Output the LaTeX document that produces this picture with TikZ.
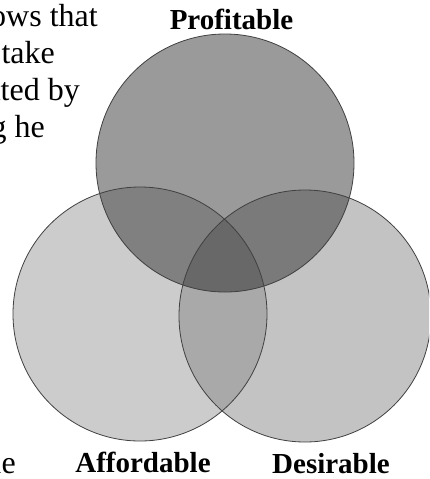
\documentclass[tikz,border=0pt]{standalone}
\usepackage{fontspec}
\setmainfont{Liberation Serif}
\begin{document}
\begin{tikzpicture}[x=1pt,y=-1pt,
  outline/.style={draw=black!75,line width=0.8pt},
  setlabel/.style={font=\fontsize{29}{33}\selectfont\bfseries,anchor=base,inner sep=0pt},
  bodytext/.style={font=\fontsize{32}{37}\selectfont,anchor=base east,inner sep=0pt}]
\useasboundingbox (0,0) rectangle (429,479);
\clip (0,0) rectangle (429,479);

% set centres and radii
\coordinate (P) at (225,163);
\coordinate (A) at (140,314);
\coordinate (D) at (305,316);
\def\rP{129}
\def\rA{127}
\def\rD{126}

% running text behind the diagram
\node[bodytext] (t1) at (98,26) {shows that};
\node[bodytext] (t2) at (55,63) {take};
\node[bodytext] (t3) at (80,100) {stated by};
\node[bodytext] (t4) at (45,137) {ng he};
\node[bodytext] (t5) at (16,473) {ble};

% base fills
\fill[fill={rgb,255:red,204;green,204;blue,204}] (A) circle (\rA);
\fill[fill={rgb,255:red,195;green,195;blue,195}] (D) circle (\rD);
\fill[fill={rgb,255:red,154;green,154;blue,154}] (P) circle (\rP);

% pairwise overlaps
\begin{scope}
  \clip (A) circle (\rA);
  \fill[fill={rgb,255:red,169;green,169;blue,169}] (D) circle (\rD);
\end{scope}
\begin{scope}
  \clip (P) circle (\rP);
  \fill[fill={rgb,255:red,128;green,128;blue,128}] (A) circle (\rA);
\end{scope}
\begin{scope}
  \clip (P) circle (\rP);
  \fill[fill={rgb,255:red,122;green,122;blue,122}] (D) circle (\rD);
\end{scope}
% triple overlap
\begin{scope}
  \clip (P) circle (\rP);
  \clip (A) circle (\rA);
  \fill[fill={rgb,255:red,104;green,104;blue,104}] (D) circle (\rD);
\end{scope}

% outlines
\draw[outline] (A) circle (\rA);
\draw[outline] (D) circle (\rD);
\draw[outline] (P) circle (\rP);

% set labels
\node[setlabel] (lp) at (231.5,29) {Profitable};
\node[setlabel] (la) at (143,472) {Affordable};
\node[setlabel] (ld) at (331,473) {Desirable};
\end{tikzpicture}
\end{document}
